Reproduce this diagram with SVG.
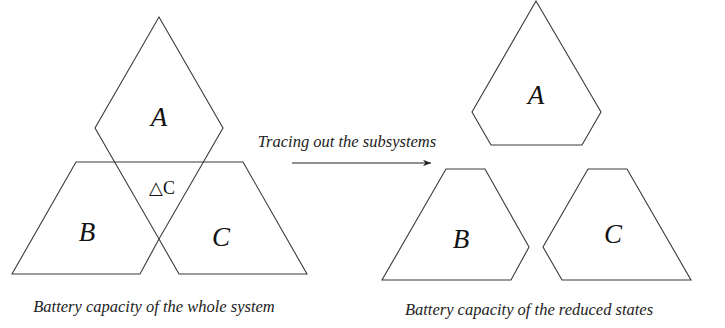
<svg xmlns="http://www.w3.org/2000/svg" width="725" height="328" viewBox="0 0 725 328">
<style>
.s{fill:none;stroke:#3a3a3a;stroke-width:1.1;stroke-linejoin:miter}
.lbl{font-family:"Liberation Serif","Times New Roman",serif;font-style:italic;font-size:27px;fill:#111;text-anchor:middle}
.cap{font-family:"Liberation Serif","Times New Roman",serif;font-style:italic;font-size:16.5px;fill:#222;text-anchor:middle}
.dc{font-family:"Liberation Serif","DejaVu Sans",serif;font-size:18px;fill:#111;text-anchor:middle}
</style>
<defs>
<marker id="ah" viewBox="0 0 10 10" refX="10" refY="5" markerWidth="10" markerHeight="8" markerUnits="userSpaceOnUse" orient="auto">
<path d="M0,1 L10,5 L0,9 L3,5 Z" fill="#222"/>
</marker>
</defs>
<rect width="725" height="328" fill="#fff"/>
<g id="whole-A">
<polygon class="s" points="159,17 223,128 159,239 95,128"/>
<text class="lbl" x="159" y="126">A</text>
</g>
<g id="whole-B">
<polyline class="s" points="203,162 76,162 12,274 140,274 159,239"/>
<text class="lbl" x="87" y="241">B</text>
</g>
<g id="whole-C">
<polyline class="s" points="203,162 243,162 307,274 179,274 159,239"/>
<text class="lbl" x="221" y="246">C</text>
</g>
<g id="deltaC">
<text class="dc" x="162" y="194">△C</text>
</g>
<text class="cap" x="154" y="312">Battery capacity of the whole system</text>
<g id="connectors">
<line x1="292" y1="163" x2="431" y2="163" stroke="#222" stroke-width="1.2" marker-end="url(#ah)"/>
<text class="cap" x="347" y="147">Tracing out the subsystems</text>
</g>
<g id="reduced-A">
<polygon class="s" points="536,1 601,112 582,145 491,145 472,112"/>
<text class="lbl" x="536" y="104">A</text>
</g>
<g id="reduced-B">
<polygon class="s" points="446,169 485,169 529,247 511,280 382,280"/>
<text class="lbl" x="461" y="248">B</text>
</g>
<g id="reduced-C">
<polygon class="s" points="588,169 627,169 691,280 562,280 543,247"/>
<text class="lbl" x="613" y="243">C</text>
</g>
<text class="cap" x="529" y="315">Battery capacity of the reduced states</text>
</svg>
